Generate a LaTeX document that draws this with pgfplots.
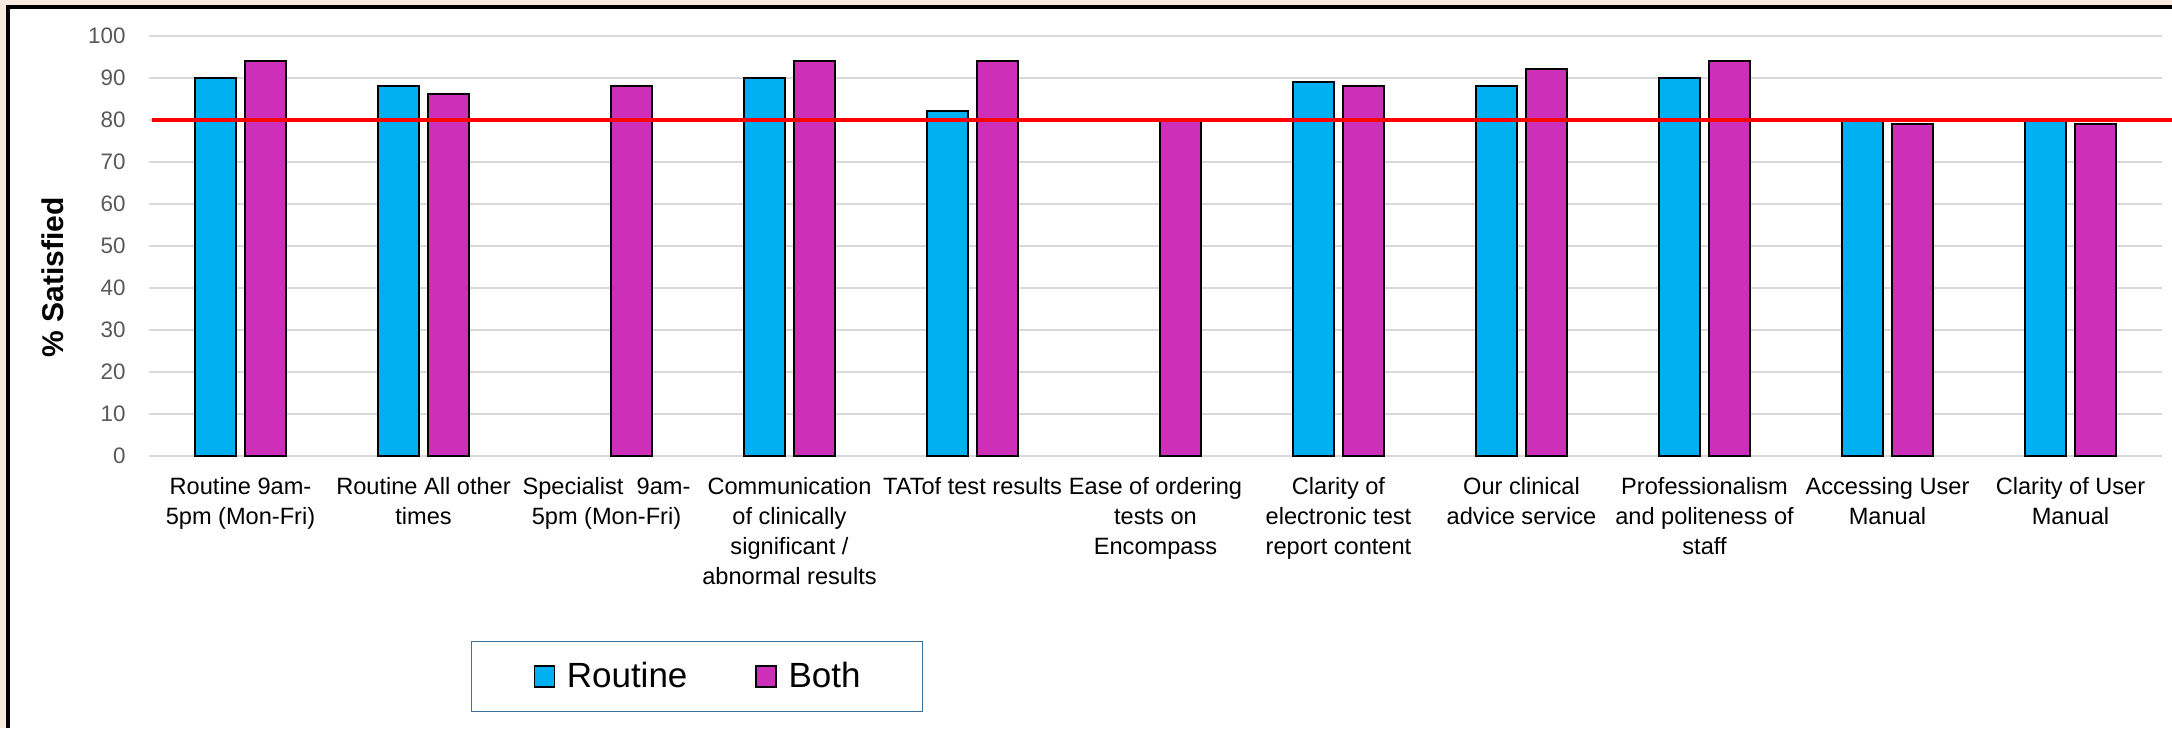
\documentclass[border=0pt]{standalone}
\usepackage{pgfplots}
\pgfplotsset{compat=1.18}
\usepackage{fontspec}
\setmainfont{Liberation Sans}

\definecolor{routinecol}{HTML}{00B0F0}
\definecolor{bothcol}{HTML}{CD2FB9}
\definecolor{gridgray}{HTML}{D9D9D9}
\definecolor{tickgray}{HTML}{595959}
\definecolor{legendblue}{HTML}{41719C}
\definecolor{pinkbg}{HTML}{FAE9E0}

\begin{document}
\begin{tikzpicture}
\useasboundingbox (0,0) rectangle (1086pt,364pt);
% page background and frame
\fill[pinkbg] (0,0) rectangle (1086pt,364pt);
\fill[white] (4pt,0) rectangle (1086pt,360.6pt);
\draw[black, line width=1.8pt] (4pt,0) -- (4pt,360.6pt) -- (1086pt,360.6pt);

\begin{axis}[
  at={(74.5pt,136.15pt)}, anchor=south west,
  scale only axis, width=1006.5pt, height=210pt,
  clip=false,
  xmin=-0.5, xmax=10.5, ymin=0, ymax=100,
  ybar=4.1pt, bar width=20.8pt,
  axis line style={draw=none},
  tick style={draw=none},
  ymajorgrids,
  major grid style={color=gridgray, line width=1pt},
  ytick={0,10,...,100},
  xtick={0,...,10},
  xticklabels={
    {Routine 9am-\\5pm (Mon-Fri)},
    {Routine All other\\times},
    {Specialist\ \ 9am-\\5pm (Mon-Fri)},
    {Communication\\of clinically\\significant /\\abnormal results},
    {TATof test results},
    {Ease of ordering\\tests on\\Encompass},
    {Clarity of\\electronic test\\report content},
    {Our clinical\\advice service},
    {Professionalism\\and politeness of\\staff},
    {Accessing User\\Manual},
    {Clarity of User\\Manual}
  },
  /pgf/number format/assume math mode=true,
  xticklabel style={font=\fontsize{11.8}{15}\selectfont, align=center,
    anchor=north, inner sep=0pt, yshift=-6.5pt, text=black},
  yticklabel style={font=\fontsize{11.2}{13}\selectfont, text=tickgray,
    anchor=east, inner sep=0pt, xshift=-11.5pt},
  ylabel={\% Satisfied},
  ylabel style={font=\bfseries\fontsize{15}{18}\selectfont,
    at={(axis description cs:-0.0479,0.424)}, anchor=center},
  legend columns=2,
  legend image code/.code={%
    \draw[#1, draw=black, line width=0.75pt] (0pt,-5.25pt) rectangle (10pt,5.25pt);},
  legend style={
    at={(axis description cs:0.2723,-0.5255)}, anchor=center,
    draw=legendblue, line width=0.75pt,
    inner xsep=31pt, inner ysep=10.4pt,
    font=\fontsize{17.5}{21}\selectfont,
    nodes={inner sep=0pt},
    /tikz/every odd column/.append style={column sep=5.8pt},
    /tikz/every even column/.append style={column sep=34pt},
  },
]
% Routine
\addplot[fill=routinecol, draw=black, line width=1pt] coordinates {
  (0,90) (1,88) (3,90) (4,82) (6,89) (7,88) (8,90) (9,80) (10,80)
};
% Both
\addplot[fill=bothcol, draw=black, line width=1pt] coordinates {
  (0,94) (1,86) (2,88) (3,94) (4,94) (5,80) (6,88) (7,92) (8,94) (9,79) (10,79)
};
\legend{Routine, Both}
% 80% target line
\addplot[sharp plot, color=red, line width=2pt, mark=none, forget plot]
  coordinates {(-0.482,80) (10.56,80)};
\end{axis}
\end{tikzpicture}
\end{document}
